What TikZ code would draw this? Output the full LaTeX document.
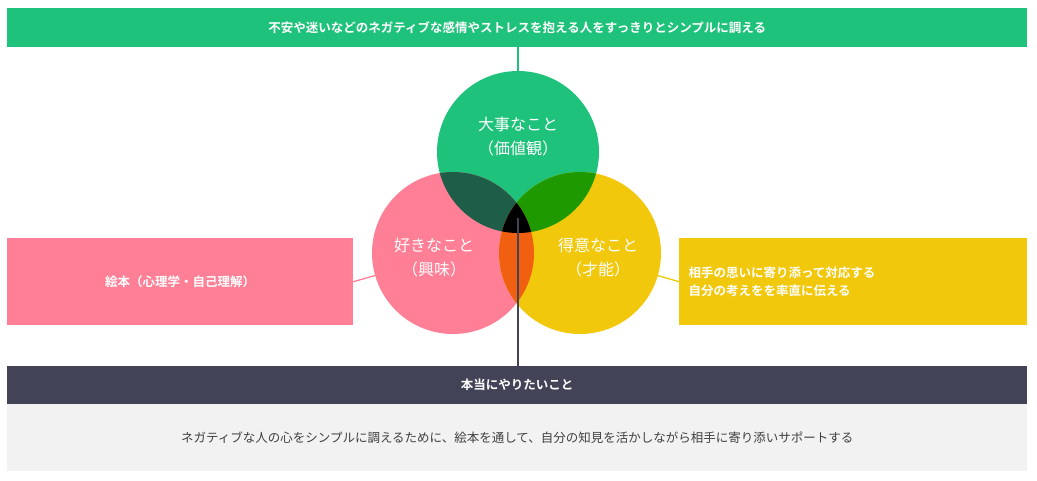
\documentclass[tikz,border=0pt]{standalone}
\usepackage{fontspec}
\setmainfont{Noto Sans CJK JP}
\newfontfamily\jpb{Noto Sans CJK JP Bold}
\definecolor{cgreen}{HTML}{1EC27A}
\definecolor{cpink}{HTML}{FF8096}
\definecolor{cyellow}{HTML}{F2C80C}
\definecolor{cdark}{HTML}{434358}
\definecolor{cgrey}{HTML}{F2F2F2}
\definecolor{cgp}{HTML}{1E5E48}
\definecolor{cgy}{HTML}{1E9A00}
\definecolor{cpy}{HTML}{F06010}
\begin{document}
\begin{tikzpicture}[x=1pt,y=-1pt,
  bar/.style={inner sep=0pt,anchor=north west},
  wt/.style={text=white,font=\jpb\fontsize{12.5}{18}\selectfont},
  ct/.style={text=white,font=\fontsize{16}{24}\selectfont,align=center},
  conn/.style={line width=1.3pt}]
\useasboundingbox (0,0) rectangle (1037,481);
\fill[white] (0,0) rectangle (1037,481);
% bars
\node[bar,fill=cgreen,minimum width=1020,minimum height=39] (top) at (7,8) {};
\node[wt] at (top.center) {不安や迷いなどのネガティブな感情やストレスを抱える人をすっきりとシンプルに調える};
\node[bar,fill=cpink,minimum width=346,minimum height=87] (lb) at (7,238) {};
\node[wt] at (lb.center) {絵本（心理学・自己理解）};
\node[bar,fill=cyellow,minimum width=348,minimum height=87] (rb) at (679,238) {};
\node[wt,align=left,anchor=west,text width=335] at ([xshift=6]rb.west) {相手の思いに寄り添って対応する\quad 自分の考えをを率直に伝える};
\node[bar,fill=cdark,minimum width=1020,minimum height=38] (db) at (7,366) {};
\node[wt] at (db.center) {本当にやりたいこと};
\node[bar,fill=cgrey,minimum width=1020,minimum height=67] (gb) at (7,404) {};
\node[text=black!75,font=\fontsize{12.5}{18}\selectfont] at (gb.center) {ネガティブな人の心をシンプルに調えるために、絵本を通して、自分の知見を活かしながら相手に寄り添いサポートする};
% circles
\coordinate (G) at (518,152);
\coordinate (P) at (453,253);
\coordinate (Y) at (580,253);
\coordinate (mid) at (518,218);
\draw[conn,cgreen] (top.south -| G) -- (G);
\draw[conn,cpink] (lb.east) -- (P);
\draw[conn,cyellow] (rb.west) -- (Y);
\fill[cgreen] (G) circle (81);
\fill[cpink] (P) circle (81);
\fill[cyellow] (Y) circle (81);
\begin{scope}\clip (G) circle (81); \fill[cgp] (P) circle (81); \end{scope}
\begin{scope}\clip (G) circle (81); \fill[cgy] (Y) circle (81); \end{scope}
\begin{scope}\clip (P) circle (81); \fill[cpy] (Y) circle (81); \end{scope}
\begin{scope}\clip (G) circle (81); \clip (P) circle (81); \fill[black] (Y) circle (81); \end{scope}
\draw[line width=1.3pt,cdark] (mid) -- (db.north -| mid);
\node[ct] (gt) at (518,137) {大事なこと\\（価値観）};
\node[ct] (pt) at (434,258) {好きなこと\\（興味）};
\node[ct] (yt) at (598,258) {得意なこと\\（才能）};
\end{tikzpicture}
\end{document}
